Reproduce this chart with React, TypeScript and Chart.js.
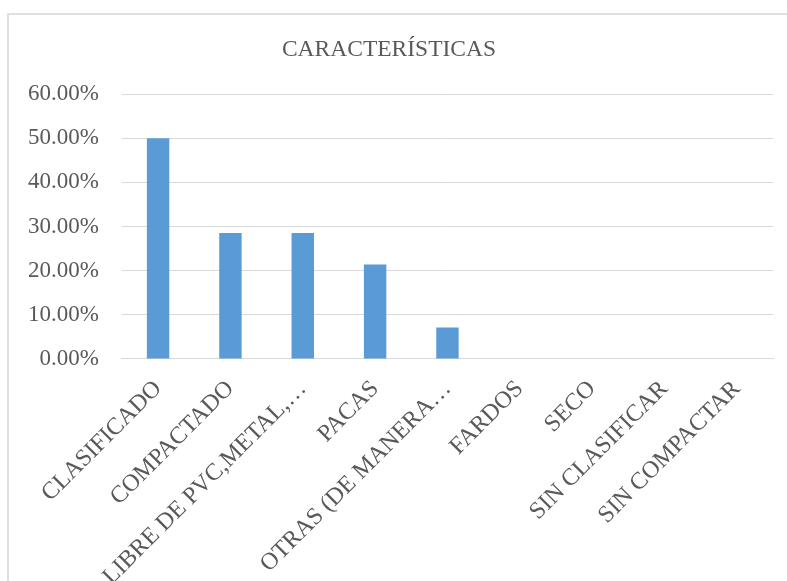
import React, { useEffect, useRef } from "react";
import { Chart, registerables } from "chart.js";

Chart.register(...registerables);

const categories = [
  "CLASIFICADO",
  "COMPACTADO",
  "LIBRE DE PVC,METAL,…",
  "PACAS",
  "OTRAS (DE MANERA…",
  "FARDOS",
  "SECO",
  "SIN CLASIFICAR",
  "SIN COMPACTAR",
];
const values = [50, 28.57, 28.57, 21.43, 7.14, 0, 0, 0, 0];
const chartTitle = "CARACTERÍSTICAS";
const yMax = 60;
const yStep = 10;

const FONT = "'Liberation Serif', 'Times New Roman', serif";
const TEXT = "#595959";
const GRID = "#d9d9d9";

export default function App() {
  const ref = useRef<HTMLCanvasElement | null>(null);

  useEffect(() => {
    if (!ref.current) return;
    const chart = new Chart(ref.current, {
      type: "bar",
      data: {
        labels: categories,
        datasets: [
          {
            data: values,
            backgroundColor: "#5b9bd5",
            categoryPercentage: 1,
            barPercentage: 0.31,
          },
        ],
      },
      options: {
        animation: false,
        responsive: false,
        maintainAspectRatio: false,
        layout: { padding: { left: 5, right: 14, top: 0, bottom: 0 } },
        plugins: {
          legend: { display: false },
          tooltip: { enabled: false },
          title: {
            display: true,
            text: chartTitle,
            color: TEXT,
            font: { family: FONT, size: 23.5, weight: "normal" },
            padding: { top: 36, bottom: 30 },
          },
        },
        scales: {
          x: {
            grid: { display: false, drawTicks: false },
            border: { display: true, color: GRID, width: 1 },
            ticks: {
              color: TEXT,
              font: { family: FONT, size: 24 },
              minRotation: 45,
              maxRotation: 45,
              autoSkip: false,
              padding: 16,
            },
          },
          y: {
            min: 0,
            max: yMax,
            grid: { color: GRID, lineWidth: 1, drawTicks: false },
            border: { display: false },
            ticks: {
              stepSize: yStep,
              color: TEXT,
              font: { family: FONT, size: 23 },
              padding: 23,
              callback: (v: any) => Number(v).toFixed(2) + "%",
            },
          },
        },
      },
    });
    return () => chart.destroy();
  }, []);

  return (
    <div style={{ position: "fixed", left: 0, top: 0, width: 787, height: 581, background: "#fff", overflow: "hidden" }}>
      <div
        style={{
          position: "absolute",
          left: 7,
          top: 13,
          width: 800,
          height: 600,
          border: "2px solid #e0e0e0",
          boxSizing: "border-box",
        }}
      />
      <canvas ref={ref} width={787} height={607} style={{ position: "absolute", left: 0, top: 0 }} />
    </div>
  );
}
